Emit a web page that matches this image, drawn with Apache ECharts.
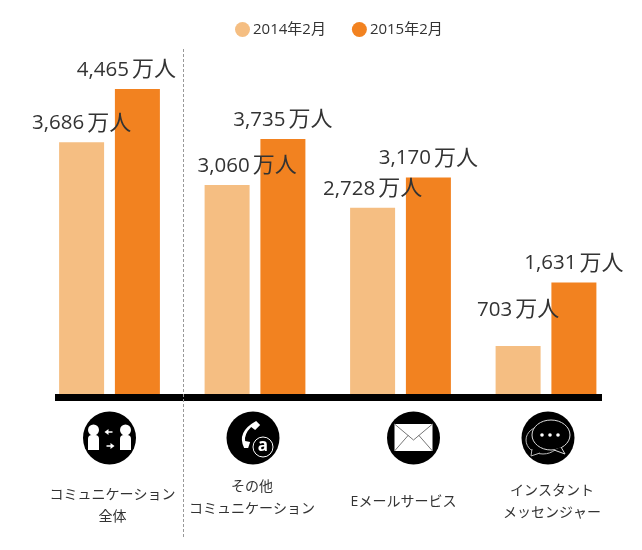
<!DOCTYPE html>
<html>
<head>
<meta charset="utf-8">
<style>
  html, body { margin: 0; padding: 0; background: #fff; }
  #chart { width: 642px; height: 550px; }
</style>
<script src="https://cdn.jsdelivr.net/npm/echarts@6/dist/echarts.min.js"></script>
</head>
<body>
<div id="chart"></div>
<script>
// データ
const categories = ['コミュニケーション\n全体', 'その他\nコミュニケーション', 'Eメールサービス', 'インスタント\nメッセンジャー'];
const values2014 = [3686, 3060, 2728, 703];
const values2015 = [4465, 3735, 3170, 1631];
const seriesNames = ['2014年2月', '2015年2月'];

// 見た目の調整
const labelShift2014 = [[0, 0], [20, 0], [0, 0], [0, -17]];
const labelShift2015 = [[-11, 0], [0, 0], [0, 0], [0, 0]];
const iconShift = [0, -2, 13, 2];
const nameShiftX = [3, -3, 3, 6];
const nameShiftY = [46, 38, 53, 42];

const FONT = '"Open Sans", "Noto Sans CJK JP", sans-serif';
const LIGHT = '#F5BE82';
const DARK = '#F28220';

function fmt(v) {
    return '{n|' + v.toLocaleString('en-US') + '} {u|万人}';
}

function barData(values, shifts) {
    return values.map((v, i) => ({ value: v, label: { offset: shifts[i] } }));
}

function categoryData() {
    return categories.map((name, i) => {
        const dx = nameShiftX[i];
        return {
            value: name,
            textStyle: { padding: [nameShiftY[i], dx < 0 ? -2 * dx : 0, 0, dx > 0 ? 2 * dx : 0] },
        };
    });
}

// アイコン(中心基準)
const white = { fill: '#fff' };

function personIcon(sx) {
    return [
        { type: 'circle', shape: { cx: sx * 16, cy: -8, r: 5.5 }, style: white },
        { type: 'rect', shape: { x: sx * 16 - 5.5, y: -3, width: 11, height: 15, r: [4, 4, 0, 0] }, style: white },
    ];
}

function arrowIcon(y, dir) {
    return [
        { type: 'line', shape: { x1: -3, y1: y, x2: 3, y2: y }, style: { stroke: '#fff', lineWidth: 1.5 } },
        { type: 'polygon', shape: { points: [[dir * 5, y], [dir * 1, y - 3], [dir * 1, y + 3]] }, style: white },
    ];
}

const iconParts = [
    () => [...personIcon(-1), ...personIcon(1), ...arrowIcon(-6, -1), ...arrowIcon(8, 1)],
    () => [
        { type: 'path', shape: { pathData: 'M6 -17 L10 -13 L5 -8 L1 -11 Q-6 -4 -5 3 L0 4 L-2 10 L-6 10 Q-14 -6 6 -17 Z', x: -14, y: -17, width: 24, height: 27 }, style: white },
        { type: 'circle', shape: { cx: 10, cy: 9, r: 10 }, style: { fill: '#000', stroke: '#fff', lineWidth: 1 } },
        { type: 'text', style: { text: 'a', x: 10, y: 8, fill: '#fff', font: 'bold 17px "Open Sans"', align: 'center', verticalAlign: 'middle' } },
    ],
    () => [
        { type: 'rect', shape: { x: -19, y: -14, width: 38, height: 27 }, style: white },
        { type: 'polyline', shape: { points: [[-19, -14], [0, 2], [19, -14]] }, style: { fill: 'none', stroke: '#777', lineWidth: 1 } },
        { type: 'line', shape: { x1: -19, y1: 13, x2: -5, y2: -3 }, style: { stroke: '#777', lineWidth: 1 } },
        { type: 'line', shape: { x1: 19, y1: 13, x2: 5, y2: -3 }, style: { stroke: '#777', lineWidth: 1 } },
    ],
    () => [
        { type: 'ellipse', shape: { cx: -5, cy: 2, rx: 17, ry: 14 }, style: { fill: 'none', stroke: '#bbb', lineWidth: 1 } },
        { type: 'polyline', shape: { points: [[-16, 11], [-17, 18], [-8, 15]] }, style: { fill: '#000', stroke: '#bbb', lineWidth: 1 } },
        { type: 'ellipse', shape: { cx: 3, cy: -3, rx: 19, ry: 15 }, style: { fill: '#000', stroke: '#ddd', lineWidth: 1 } },
        { type: 'polyline', shape: { points: [[13, 9], [17, 16], [6, 12]] }, style: { fill: '#000', stroke: '#ddd', lineWidth: 1 } },
        { type: 'circle', shape: { cx: -6, cy: -3, r: 1.8 }, style: white },
        { type: 'circle', shape: { cx: 2, cy: -3, r: 1.8 }, style: white },
        { type: 'circle', shape: { cx: 10, cy: -3, r: 1.8 }, style: white },
    ],
];

function renderIcon(params, api) {
    const i = api.value(0);
    const p = api.coord([i, 0]);
    return {
        type: 'group',
        x: p[0] + iconShift[i],
        y: p[1] + 44,
        children: [
            { type: 'circle', shape: { cx: 0, cy: 0, r: 26.5 }, style: { fill: '#000' } },
            ...iconParts[i](),
        ],
    };
}

const barLabel = {
    show: true,
    position: 'top',
    distance: 8,
    formatter: p => fmt(p.value),
    color: '#333',
    fontFamily: FONT,
    rich: {
        n: { fontFamily: FONT, fontSize: 20.5, color: '#333' },
        u: { fontFamily: FONT, fontSize: 22, color: '#333' },
    },
};

const chart = echarts.init(document.getElementById('chart'));

chart.setOption({
    animation: false,
    backgroundColor: '#fff',
    textStyle: { fontFamily: FONT },
    legend: {
        data: seriesNames,
        top: 17,
        left: 230,
        icon: 'circle',
        itemWidth: 15,
        itemHeight: 15,
        itemGap: 26,
        textStyle: { color: '#333', fontFamily: FONT, fontSize: 15, padding: [0, 0, 0, -2] },
    },
    grid: { left: 36.75, right: 23.25, top: 52.5, bottom: 156 },
    xAxis: {
        type: 'category',
        data: categoryData(),
        axisLine: { show: false },
        axisTick: { show: false },
        axisLabel: {
            interval: 0,
            margin: 44,
            verticalAlign: 'top',
            color: '#333',
            fontFamily: FONT,
            fontSize: 14,
            lineHeight: 22,
        },
    },
    yAxis: { type: 'value', min: 0, max: 5000, show: false },
    series: [
        {
            name: seriesNames[0],
            type: 'bar',
            data: barData(values2014, labelShift2014),
            barWidth: 45,
            barGap: '24%',
            itemStyle: { color: LIGHT },
            label: barLabel,
        },
        {
            name: seriesNames[1],
            type: 'bar',
            data: barData(values2015, labelShift2015),
            barWidth: 45,
            itemStyle: { color: DARK },
            label: barLabel,
        },
        {
            type: 'custom',
            silent: true,
            renderItem: renderIcon,
            encode: { x: 0 },
            data: categories.map((c, i) => [i]),
            z: 5,
        },
    ],
    graphic: [
        { type: 'rect', shape: { x: 55, y: 394, width: 547, height: 7 }, style: { fill: '#000' }, z: 10 },
        { type: 'line', shape: { x1: 183.5, y1: 49, x2: 183.5, y2: 537 }, style: { stroke: '#999', lineWidth: 1, lineDash: [3, 2] }, z: 11 },
    ],
});

window.addEventListener('resize', () => chart.resize());
</script>
</body>
</html>
